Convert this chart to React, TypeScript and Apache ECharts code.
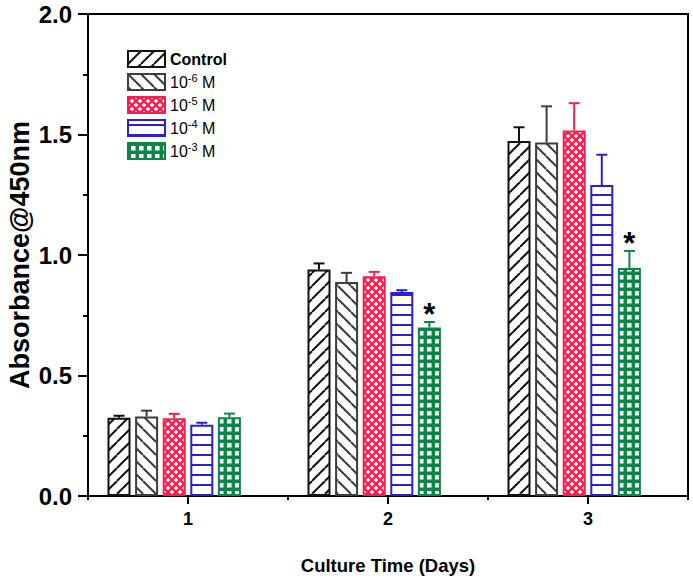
import React, { useEffect, useRef } from "react";
import * as echarts from "echarts";

const categories = ["1", "2", "3"];
const seriesNames = ["Control", "10^-6 M", "10^-5 M", "10^-4 M", "10^-3 M"];
const control = [0.325, 0.94, 1.473];
const controlErr = [0.008, 0.025, 0.057];
const m6 = [0.33, 0.888, 1.467];
const m6Err = [0.024, 0.038, 0.15];
const m5 = [0.323, 0.912, 1.517];
const m5Err = [0.018, 0.018, 0.113];
const m4 = [0.296, 0.846, 1.29];
const m4Err = [0.008, 0.008, 0.126];
const m3 = [0.327, 0.699, 0.946];
const m3Err = [0.015, 0.023, 0.071];
const m3Significant = [false, true, true];
const yTicks = [0, 0.5, 1.0, 1.5, 2.0];

const values = [control, m6, m5, m4, m3];
const errors = [controlErr, m6Err, m5Err, m4Err, m3Err];
const colors = ["#111111", "#3c3c3c", "#f81d4f", "#2a1fd2", "#0e8548"];

const BAR_W = 23;
const GAP = 4.6;
const SLOTS = 6;
const FONT = 'Arial, "Liberation Sans", sans-serif';

function makePattern(w: number, h: number, draw: (ctx: CanvasRenderingContext2D) => void) {
  const c = document.createElement("canvas");
  c.width = w;
  c.height = h;
  const ctx = c.getContext("2d")!;
  draw(ctx);
  return { image: c, repeat: "repeat" } as any;
}

function buildPatterns() {
  const diag = (color: string, forward: boolean) =>
    makePattern(13, 13, (ctx) => {
      ctx.fillStyle = "#fff";
      ctx.fillRect(0, 0, 13, 13);
      ctx.strokeStyle = color;
      ctx.lineWidth = 2;
      for (const k of [-13, 0, 13]) {
        ctx.beginPath();
        if (forward) {
          ctx.moveTo(k, 13);
          ctx.lineTo(k + 13, 0);
        } else {
          ctx.moveTo(k, 0);
          ctx.lineTo(k + 13, 13);
        }
        ctx.stroke();
      }
    });
  const red = makePattern(8, 8, (ctx) => {
    ctx.fillStyle = colors[2];
    ctx.fillRect(0, 0, 8, 8);
    ctx.fillStyle = "#fff";
    const dia = (cx: number, cy: number, r: number) => {
      ctx.beginPath();
      ctx.moveTo(cx, cy - r);
      ctx.lineTo(cx + r, cy);
      ctx.lineTo(cx, cy + r);
      ctx.lineTo(cx - r, cy);
      ctx.closePath();
      ctx.fill();
    };
    dia(4, 4, 2.3);
    dia(0, 0, 2.3);
    dia(8, 0, 2.3);
    dia(0, 8, 2.3);
    dia(8, 8, 2.3);
  });
  const blue = makePattern(4, 10, (ctx) => {
    ctx.fillStyle = "#fff";
    ctx.fillRect(0, 0, 4, 10);
    ctx.fillStyle = colors[3];
    ctx.fillRect(0, 4, 4, 2);
  });
  const green = makePattern(8, 8, (ctx) => {
    ctx.fillStyle = colors[4];
    ctx.fillRect(0, 0, 8, 8);
    ctx.fillStyle = "#fff";
    ctx.fillRect(3, 3, 4.5, 4.5);
  });
  return [diag(colors[0], true), diag(colors[1], false), red, blue, green];
}

function legendLabel(name: string) {
  const m = name.match(/^10\^(-\d) M$/);
  if (!m) return "{b|" + name + "}";
  return "{n|10}{sup|" + m[1] + "}{n| M}";
}

export default function App() {
  const ref = useRef<HTMLDivElement>(null);
  useEffect(() => {
    if (!ref.current) return;
    const chart = echarts.init(ref.current, undefined, { renderer: "svg" });
    const patterns = buildPatterns();

    const barSeries: any[] = values.map((vals, i) => ({
      name: seriesNames[i],
      type: "bar",
      xAxisIndex: 0,
      yAxisIndex: 0,
      data: vals,
      barWidth: BAR_W,
      barGap: (GAP / BAR_W) * 100 + "%",
      itemStyle: { color: patterns[i], borderColor: colors[i], borderWidth: 2 },
      emphasis: { disabled: true },
      z: 2,
    }));
    barSeries.push({
      name: "__pad",
      type: "bar",
      data: ["-", "-", "-"],
      barWidth: BAR_W,
      barGap: (GAP / BAR_W) * 100 + "%",
      z: 2,
    });

    const errSeries: any[] = values.map((vals, i) => ({
      name: seriesNames[i] + " err",
      type: "custom",
      xAxisIndex: 0,
      yAxisIndex: 0,
      data: vals.map((v, ci) => [ci, v, errors[i][ci]]),
      encode: { x: 0, y: 1 },
      z: 4,
      silent: true,
      renderItem: (params: any, api: any) => {
        const ci = api.value(0);
        const v = api.value(1);
        const e = api.value(2);
        const base = api.coord([ci, v]);
        const top = api.coord([ci, v + e]);
        const offset = (i - (SLOTS - 1) / 2) * (BAR_W + GAP);
        const x = base[0] + offset;
        return {
          type: "group",
          children: [
            { type: "line", shape: { x1: x, y1: base[1], x2: x, y2: top[1] }, style: { stroke: colors[i], lineWidth: 2 } },
            { type: "line", shape: { x1: x - 5.5, y1: top[1], x2: x + 5.5, y2: top[1] }, style: { stroke: colors[i], lineWidth: 2 } },
          ],
        };
      },
    }));

    const starData = m3
      .map((v, ci) => (m3Significant[ci] ? [ci, v + m3Err[ci]] : null))
      .filter((d) => d !== null);
    const starSeries = {
      name: "stars",
      type: "custom",
      data: starData,
      encode: { x: 0, y: 1 },
      z: 5,
      silent: true,
      renderItem: (params: any, api: any) => {
        const p = api.coord([api.value(0), api.value(1)]);
        const offset = (4 - (SLOTS - 1) / 2) * (BAR_W + GAP);
        return {
          type: "text",
          x: p[0] + offset,
          y: p[1] - 7,
          style: { text: "*", font: "bold 31px " + FONT, fill: "#000", align: "center", verticalAlign: "middle" },
        };
      },
    };

    chart.setOption({
      animation: false,
      grid: {
        left: 88,
        right: 5,
        top: 14,
        bottom: 90,
        containLabel: false,
        outerBoundsMode: "none",
        show: true,
        borderColor: "#000",
        borderWidth: 2,
        backgroundColor: "transparent",
      },
      legend: {
        data: seriesNames,
        left: 122,
        top: 45,
        orient: "vertical",
        icon: "rect",
        itemWidth: 37,
        itemHeight: 16,
        itemGap: 4.5,
        selectedMode: false,
        formatter: legendLabel,
        textStyle: {
          fontFamily: FONT,
          color: "#000",
          padding: [0, 0, 0, 0],
          rich: {
            b: { fontFamily: FONT, fontSize: 16, fontWeight: "bold", color: "#000" },
            n: { fontFamily: FONT, fontSize: 16, fontWeight: "normal", color: "#000" },
            sup: { fontFamily: FONT, fontSize: 11, fontWeight: "normal", color: "#000", verticalAlign: "top", padding: [0, 0, 8, 0] },
          },
        },
      },
      xAxis: [
        {
          type: "category",
          data: categories,
          position: "bottom",
          boundaryGap: true,
          name: "Culture Time (Days)",
          nameLocation: "middle",
          nameGap: 60,
          nameMoveOverlap: false,
          nameTextStyle: { fontFamily: FONT, fontSize: 18.5, fontWeight: "bold", color: "#000" },
          axisLine: { show: true, lineStyle: { color: "#000", width: 2 } },
          axisTick: { show: true, alignWithLabel: true, length: 8, lineStyle: { color: "#000", width: 2 } },
          axisLabel: { show: true, margin: 14, fontFamily: FONT, fontSize: 18, fontWeight: "bold", color: "#000" },
          splitLine: { show: false },
        },
        {
          type: "category",
          data: categories,
          position: "bottom",
          boundaryGap: true,
          axisLine: { show: false },
          axisTick: { show: true, length: 4, lineStyle: { color: "#000", width: 2 } },
          axisLabel: { show: false },
          splitLine: { show: false },
        },
      ],
      yAxis: {
        type: "value",
        min: yTicks[0],
        max: yTicks[yTicks.length - 1],
        interval: yTicks[1] - yTicks[0],
        name: "Absorbance@450nm",
        nameLocation: "middle",
        nameGap: 55,
        nameMoveOverlap: false,
        nameTextStyle: { fontFamily: FONT, fontSize: 27, fontWeight: "bold", color: "#000" },
        axisLine: { show: true, lineStyle: { color: "#000", width: 2 } },
        axisTick: { show: true, length: 10, lineStyle: { color: "#000", width: 2 } },
        minorTick: { show: true, splitNumber: 2, length: 5, lineStyle: { color: "#000", width: 2 } },
        axisLabel: { margin: 16, fontFamily: FONT, fontSize: 24, fontWeight: "bold", color: "#000", formatter: (v: number) => v.toFixed(1) },
        splitLine: { show: false },
      },
      series: [...barSeries, ...errSeries, starSeries],
    });
    return () => chart.dispose();
  }, []);
  return <div ref={ref} style={{ position: "absolute", left: 0, top: 0, width: 693, height: 586 }} />;
}
